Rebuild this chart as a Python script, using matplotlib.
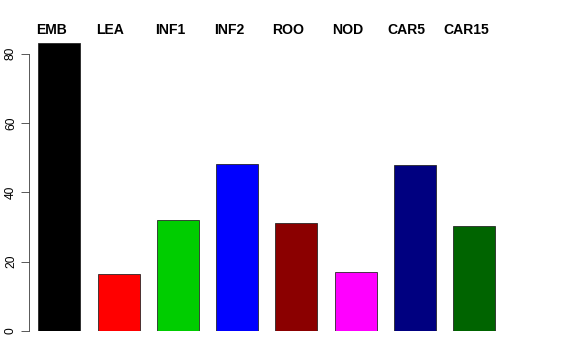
import matplotlib
matplotlib.use("Agg")
import matplotlib.pyplot as plt
import matplotlib.transforms as mtransforms

categories = ["EMB", "LEA", "INF1", "INF2", "ROO", "NOD", "CAR5", "CAR15"]
values = [83.2, 16.4, 32.1, 48.2, 31.1, 16.9, 47.9, 30.2]
colors = ["#000000", "#FF0000", "#00CD00", "#0000FF", "#8B0000", "#FF00FF", "#000080", "#006400"]
yticks = [0, 20, 40, 60, 80]

plt.rcParams['font.family'] = ['Liberation Sans', 'DejaVu Sans']

W, H = 576, 360
fig = plt.figure(figsize=(W / 72, H / 72), dpi=72)
ymax = 85
px_per_unit = 3.465
bottom_px = 331
top_px = bottom_px - ymax * px_per_unit
left_px, right_px = 29, 560
ax = fig.add_axes([left_px / W, (H - bottom_px) / H, (right_px - left_px) / W, (bottom_px - top_px) / H])

pitch = 59.24
c0 = 59.3
xs = list(range(len(categories)))
ax.bar(xs, values, width=42 / pitch, color=colors, edgecolor="#222222", linewidth=0.8)
ax.set_xlim((left_px - c0) / pitch, (right_px - c0) / pitch)
ax.set_ylim(0, ymax)

for s in ["top", "right", "bottom"]:
    ax.spines[s].set_visible(False)
ax.spines["left"].set_bounds(0, 80)
ax.spines["left"].set_color("#333333")
ax.set_xticks([])
ax.set_yticks(yticks)
ax.set_yticklabels([str(t) for t in yticks], rotation=90, va="center", ha="right")
ax.tick_params(axis="y", length=8, pad=4, labelsize=12, color="#333333")

trans = mtransforms.blended_transform_factory(ax.transData, fig.transFigure)
for x, lab in zip(xs, categories):
    ax.text(x - 8 / pitch, 1 - 33.5 / H, lab, transform=trans, ha="center", va="baseline",
            fontsize=14, fontweight="bold", clip_on=False)

fig.savefig("out.png", dpi=72)
